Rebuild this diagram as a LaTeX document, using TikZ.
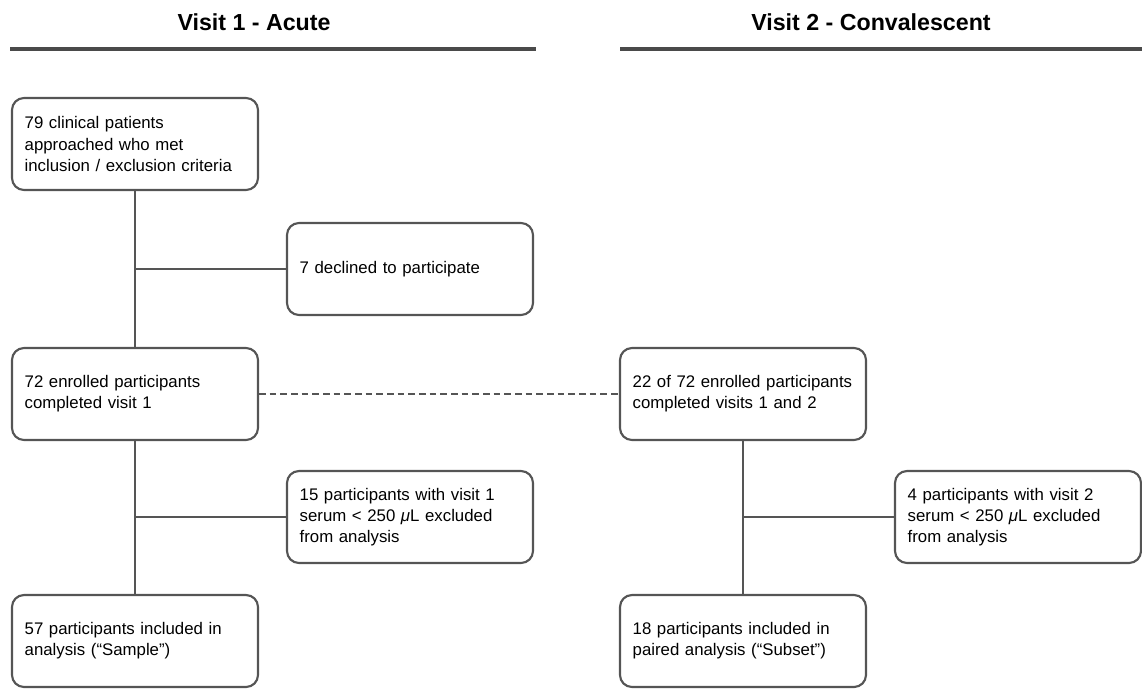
\documentclass[tikz,border=0pt]{standalone}
\usepackage{fontspec}
\setmainfont{Liberation Sans}
\begin{document}
\begin{tikzpicture}[x=0.75pt,y=-0.75pt,
  box/.style={draw=linec, line width=1.6pt, rounded corners=9pt, minimum width=184.5pt, minimum height=69pt, text width=165.5pt, align=left, inner xsep=9.5pt, font=\fontsize{12.6}{15.8}\selectfont},
  conn/.style={draw=linec, line width=1.6pt},
  head/.style={font=\fontsize{17.4}{19}\selectfont\bfseries},
  rule/.style={draw=rulec, line width=3pt}]
\definecolor{linec}{HTML}{555555}
\definecolor{rulec}{HTML}{4A4A4A}
\useasboundingbox (0,0) rectangle (1142,690);
\node[head] (h1) at (254,22) {Visit 1 - Acute};
\node[head] (h2) at (871,22) {Visit 2 - Convalescent};
\coordinate (r1a) at (10,49); \coordinate (r1b) at (536,49);
\coordinate (r2a) at (620,49); \coordinate (r2b) at (1142,49);
\draw[rule] (r1a) -- (r1b);
\draw[rule] (r2a) -- (r2b);
\node[box] (b1) at (135,144) {79 clinical patients\\approached who met\\inclusion / exclusion criteria};
\node[box] (b2) at (410,269) {7 declined to participate};
\node[box] (b3) at (135,394) {72 enrolled participants\\completed visit 1};
\node[box] (b4) at (743,394) {22 of 72 enrolled participants\\completed visits 1 and 2};
\node[box] (b5) at (410,517) {15 participants with visit 1\\serum < 250 \textit{μ}L excluded\\from analysis};
\node[box] (b6) at (1018,517) {4 participants with visit 2\\serum < 250 \textit{μ}L excluded\\from analysis};
\node[box] (b7) at (135,641) {57 participants included in\\analysis (“Sample”)};
\node[box] (b8) at (743,641) {18 participants included in\\paired analysis (“Subset”)};
\draw[conn] (b1.south) -- (b3.north);
\draw[conn] (b3.south) -- (b7.north);
\draw[conn] (b4.south) -- (b8.north);
\draw[conn] (b1.south |- b2.west) -- (b2.west);
\draw[conn] (b3.south |- b5.west) -- (b5.west);
\draw[conn] (b4.south |- b6.west) -- (b6.west);
\draw[conn, dashed, dash pattern=on 5pt off 3pt] (b3.east) -- (b4.west);
\end{tikzpicture}
\end{document}
